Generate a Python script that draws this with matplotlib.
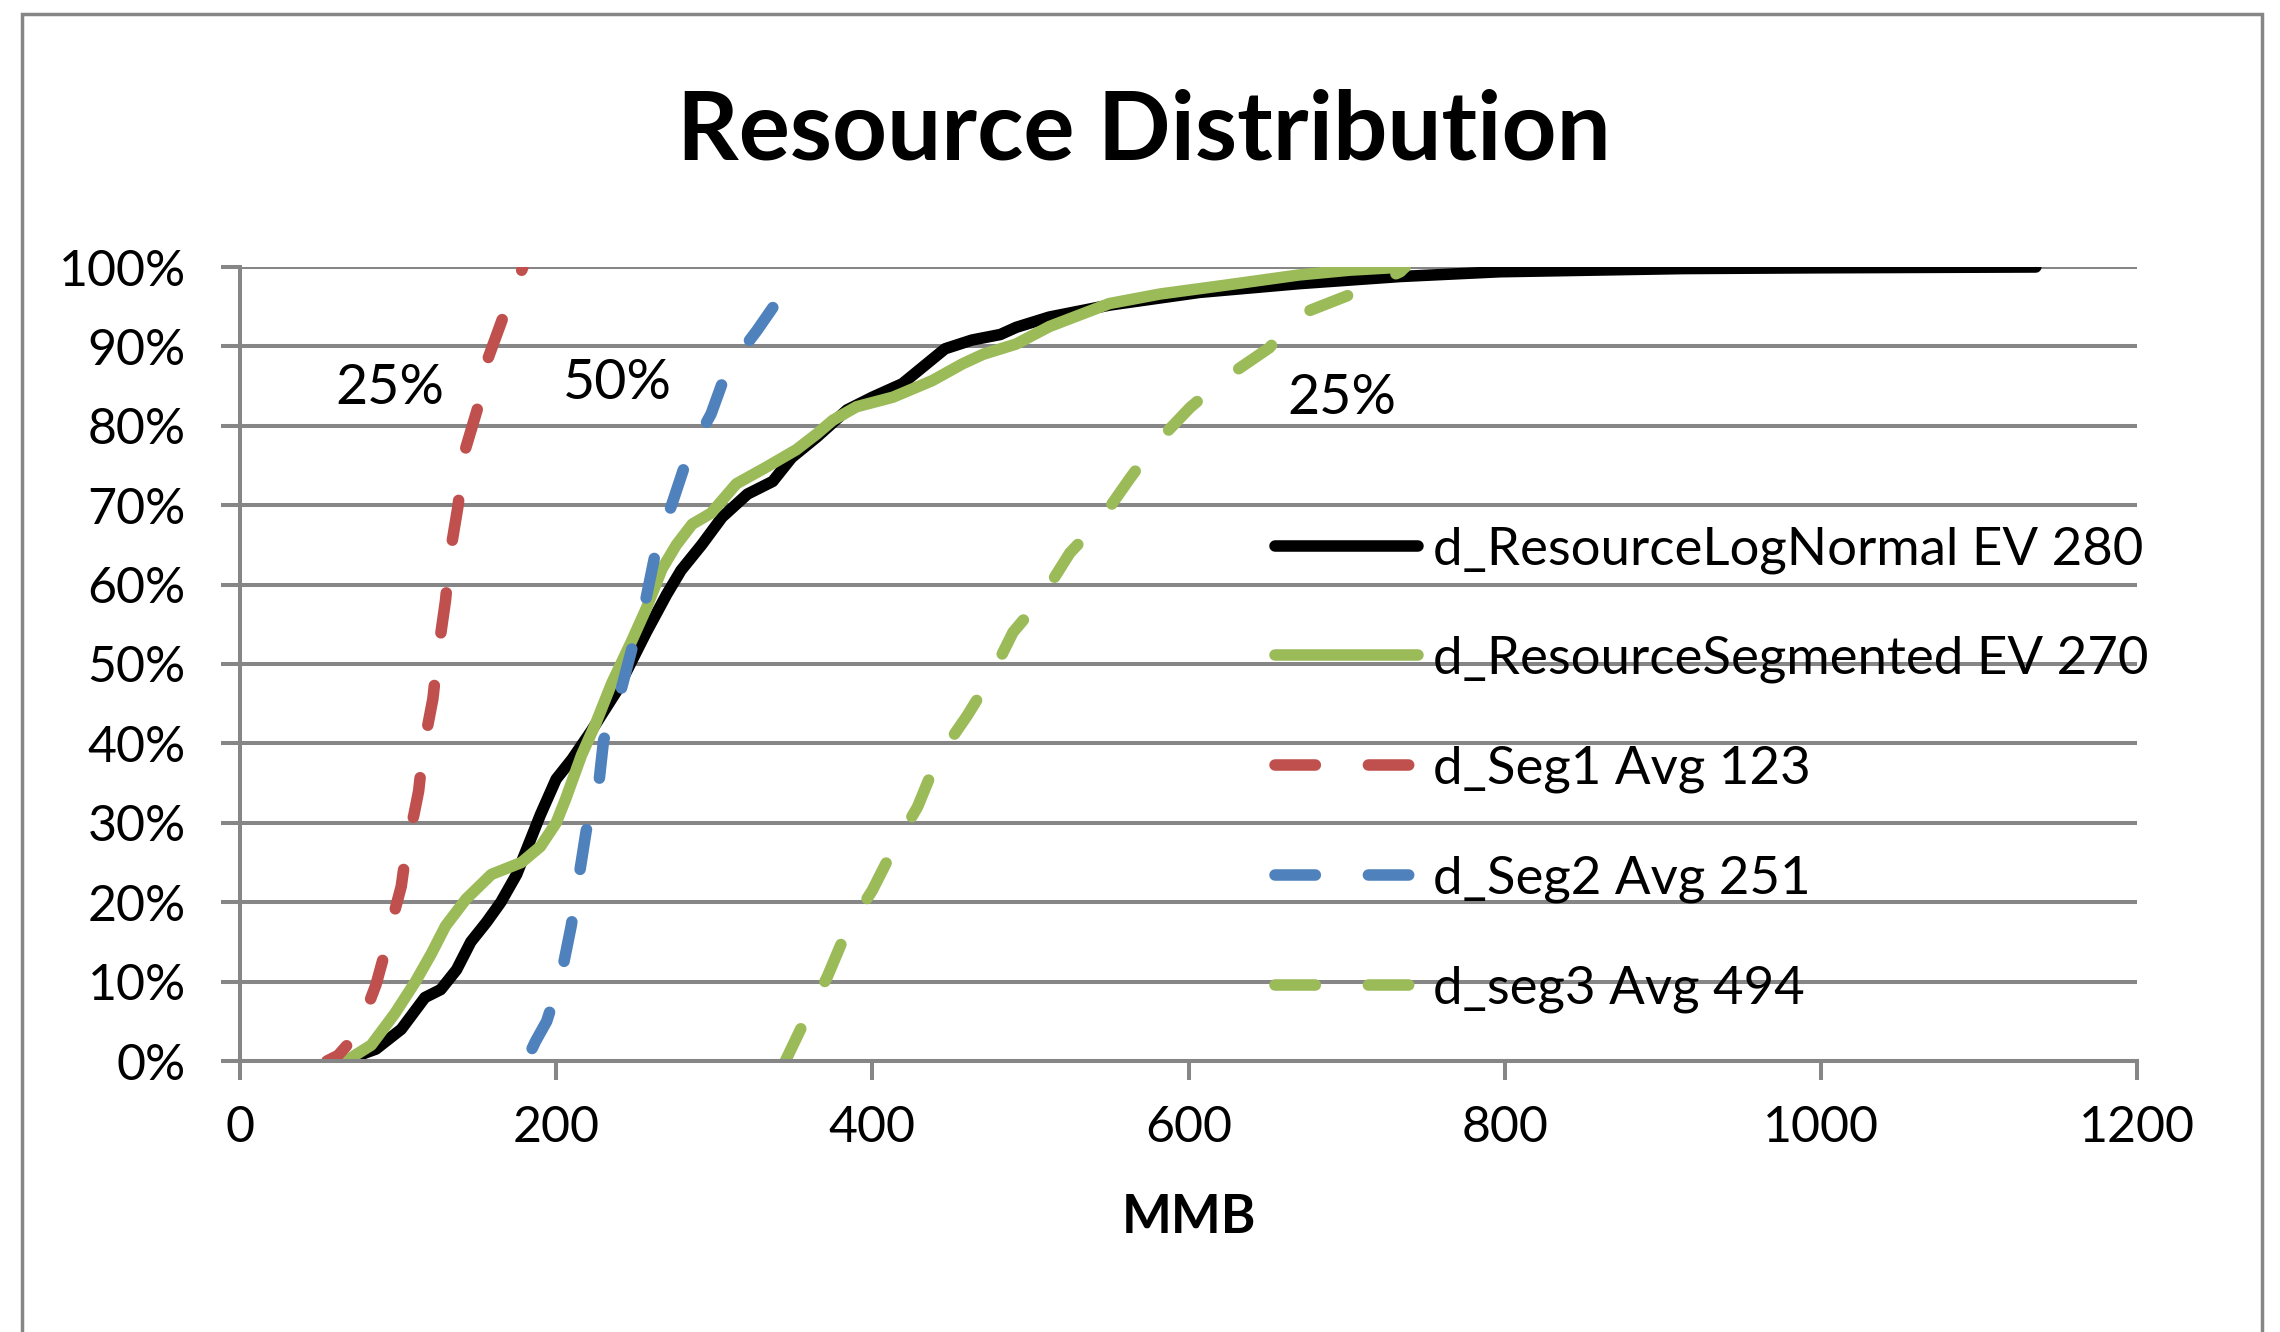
import matplotlib
matplotlib.use("Agg")
import matplotlib.pyplot as plt
from matplotlib.lines import Line2D
from matplotlib.patches import Rectangle
from matplotlib.ticker import PercentFormatter

plt.rcParams['font.family'] = ['Lato', 'DejaVu Sans']

# values (MMB, cumulative %)
lognormal_x = [70, 79, 86, 102, 117, 127, 137, 146, 156, 165, 175, 184, 190, 200, 210, 222,
               238, 257, 270, 279, 292, 305, 321, 337, 349, 365, 384, 400, 419, 446, 463,
               481, 491, 512, 550, 607, 670, 734, 797, 913, 1000, 1136]
lognormal_y = [0, 1, 1.5, 4, 8, 9, 11.5, 15, 17.5, 20, 23.5, 28, 31, 35.5, 38, 41.5,
               46.5, 54, 58.8, 61.8, 65, 68.5, 71.4, 73, 76, 78.6, 82, 83.6, 85.3, 89.7, 90.8,
               91.5, 92.4, 93.7, 95.2, 96.8, 97.9, 98.8, 99.4, 99.8, 99.9, 100]

segmented_x = [67, 83, 98, 111, 121, 130, 143, 159, 178, 190, 200, 206, 216, 225, 235, 248,
               257, 267, 276, 286, 298, 314, 333, 352, 365, 375, 390, 413, 438, 457, 470,
               491, 512, 550, 582, 623, 670, 702, 737]
segmented_y = [0, 2, 6, 10, 13.5, 17, 20.4, 23.5, 25, 27, 30, 33, 38.5, 42.5, 47.5, 53,
               57, 62, 65, 67.6, 69, 72.7, 74.8, 77, 79, 80.7, 82.4, 83.6, 85.7, 87.8, 89,
               90.3, 92.5, 95.4, 96.6, 97.7, 99, 99.6, 100]

seg1_x = [55, 62, 70, 76, 82, 86, 90, 94, 98, 102, 106, 110, 113, 116, 122, 125, 130, 133,
          138, 141, 150, 156, 167, 179]
seg1_y = [0, 0.7, 2.5, 4.5, 7.5, 9.6, 12.5, 15.6, 19, 22, 27.7, 31, 34, 39.4, 45.6, 51, 58, 64,
          70, 76, 82, 88, 94, 100]

seg2_x = [181, 187, 194, 203, 209.5, 214, 219, 227, 230, 241, 248, 257, 263.5, 273, 283, 298,
          308, 327, 343]
seg2_y = [0, 2.5, 5, 10.6, 17, 22.7, 29, 35, 40.4, 46.7, 52, 58.4, 64.7, 70, 76, 81.5,
          87, 92, 96.6]

seg3_x = [345, 357, 371.5, 384, 400, 414, 428.6, 441, 460, 474, 489, 506, 525, 544, 563, 579,
          601, 623, 651, 670, 702, 734, 737]
seg3_y = [0, 5, 10.6, 16.5, 21.5, 27, 32, 38, 43.5, 48, 54, 58, 64, 68, 73.4, 77.7,
          82.3, 86, 89.8, 94, 96.5, 99.4, 100]

labels = ['d_ResourceLogNormal EV 280', 'd_ResourceSegmented EV 270',
          'd_Seg1 Avg 123', 'd_Seg2 Avg 251', 'd_seg3 Avg 494']
notes = [('25%', 95, 84.7), ('50%', 239, 85.3), ('25%', 697, 83.5)]

GRID = '#868686'
BLACK, GREEN, RED, BLUE = 'black', '#9BBB59', '#C0504D', '#4F81BD'
W, H = 2280, 1332

fig = plt.figure(figsize=(W / 100, H / 100), dpi=100)
ax = fig.add_axes([240 / W, 1 - 1061 / H, (2137 - 240) / W, (1061 - 267) / H])

lw = 8.3
dash = (3.5, 4.6)
ax.plot(lognormal_x, lognormal_y, color=BLACK, lw=lw, solid_capstyle='round')
ax.plot(segmented_x, segmented_y, color=GREEN, lw=lw, solid_capstyle='round')
ax.plot(seg1_x, seg1_y, color=RED, lw=lw, ls=(1.3, dash), dash_capstyle='round')
ax.plot(seg2_x, seg2_y, color=BLUE, lw=lw, ls=(6.9, dash), dash_capstyle='round')
ax.plot(seg3_x, seg3_y, color=GREEN, lw=lw, ls=(0.4, dash), dash_capstyle='round')

for txt, x, y in notes:
    ax.text(x, y, txt, fontsize=40, ha='center', va='center')

ax.set_xlim(0, 1200)
ax.set_ylim(0, 100)
ax.set_xticks(range(0, 1201, 200))
ax.set_yticks(range(0, 101, 10))
ax.yaxis.set_major_formatter(PercentFormatter(decimals=0))
ax.grid(axis='y', color=GRID, lw=2.9)
ax.set_axisbelow(True)
for s in ['top', 'right']:
    ax.spines[s].set_visible(False)
for s in ['left', 'bottom']:
    ax.spines[s].set_color(GRID)
    ax.spines[s].set_linewidth(2.9)
ax.tick_params(axis='both', colors=GRID, width=2.9, length=14, labelsize=36, labelcolor='black')
ax.tick_params(axis='y', pad=25)
ax.tick_params(axis='x', pad=18)
ax.set_xlabel('MMB', fontsize=38, fontweight='bold', labelpad=30)

# legend keys drawn without the dash offsets used on the curves
handles = [Line2D([], [], color=BLACK, lw=lw, solid_capstyle='round'),
           Line2D([], [], color=GREEN, lw=lw, solid_capstyle='round'),
           Line2D([], [], color=RED, lw=lw, ls=(0, dash), dash_capstyle='round'),
           Line2D([], [], color=BLUE, lw=lw, ls=(0, dash), dash_capstyle='round'),
           Line2D([], [], color=GREEN, lw=lw, ls=(0, dash), dash_capstyle='round')]
leg = ax.legend(handles, labels, loc='upper left', bbox_to_anchor=(1275 / W, 1 - 526 / H),
                bbox_transform=fig.transFigure, frameon=False, fontsize=38,
                handlelength=2.7, handletextpad=0.3, labelspacing=1.18,
                borderpad=0, borderaxespad=0)

fig.text(1144 / W, 1 - 160 / H, 'Resource Distribution', fontsize=69, fontweight='bold',
         ha='center', va='baseline')

fig.add_artist(Rectangle((22 / W, -0.1), (2262 - 22) / W, 1.1 - 14 / H,
                         transform=fig.transFigure, fill=False, edgecolor=GRID, lw=2.5))

fig.savefig('out.png', dpi=100)
